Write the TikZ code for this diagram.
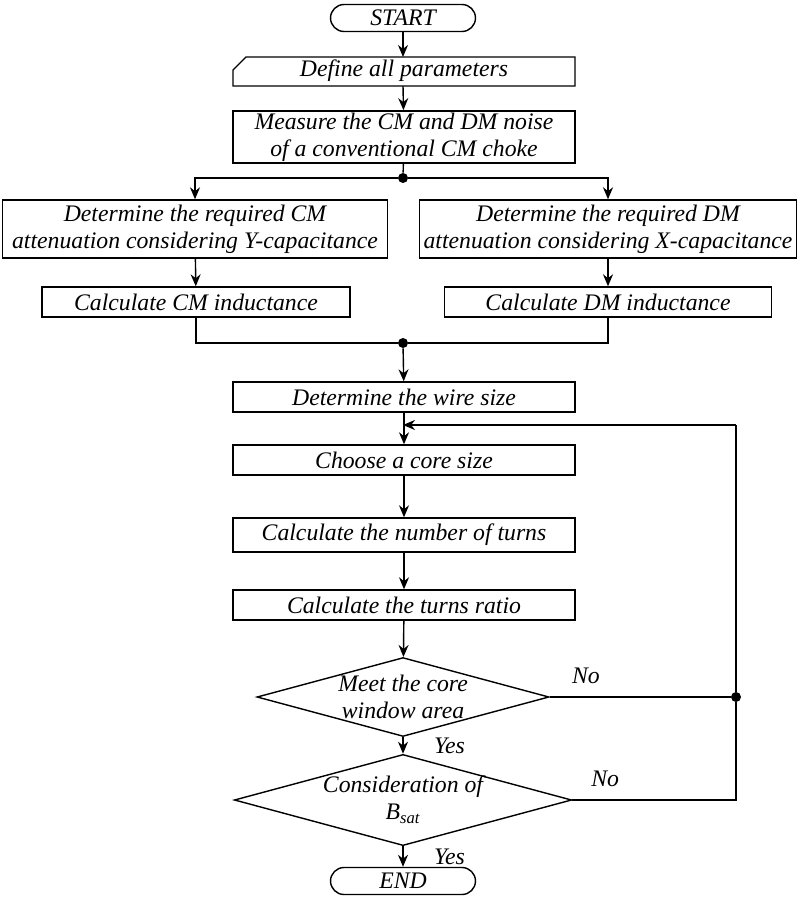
\documentclass[tikz,border=0pt]{standalone}
\usepackage{fontspec}
\setmainfont{Liberation Serif}
\usetikzlibrary{positioning,shapes.geometric,arrows.meta}
\tikzstyle{flowchart} = [x = .02cm, y = -.02cm, font=\fontsize{13.5}{15.5}\selectfont\itshape]
\tikzstyle{stepBox} = [draw, thick, minimum height = .6cm, align=center, inner sep=1pt]
\tikzstyle{wideBox} = [stepBox, minimum width = 6.84cm]
\tikzstyle{termBox} = [draw, thick, rounded corners = .27cm, minimum width = 2.9cm, minimum height = .54cm, inner sep=1pt]
\tikzstyle{decision} = [draw, thick, diamond, aspect = 3.7, minimum width = 5.8cm, minimum height = 1.56cm, inner sep=0pt, align=center]
\tikzstyle{flowLine} = [thick]
\tikzstyle{flowArrow} = [thick, -{Stealth[length=2.4mm, width=2mm]}]
\tikzstyle{junction} = [circle, fill, inner sep=0pt, minimum size=2mm]

\begin{document}
\begin{tikzpicture}[flowchart]
          \useasboundingbox (0,0) rectangle (800,898);
          \node [termBox] (start) at (403,18) {START};
          % manual input
          \draw [thick] (233,86) -- (233,70) -- (246,57) -- (575,57) -- (575,86) -- cycle;
          \node (params) at (404,71) {Define all parameters};
          \coordinate (paramsTop) at (403,57);
          \coordinate (paramsBottom) at (403,86);
          \node [wideBox, minimum height = .94cm] (measure) at (404,137) {Measure the CM and DM noise\\of a conventional CM choke};
          \node [junction] (split) at (403,178) {};
          \node [stepBox, minimum width = 7.7cm, minimum height = 1.16cm] (cmAtt) at (195,229) {Determine the required CM\\attenuation considering Y-capacitance};
          \node [stepBox, minimum width = 7.54cm, minimum height = 1.16cm] (dmAtt) at (608,229) {Determine the required DM\\attenuation considering X-capacitance};
          \node [stepBox, minimum width = 6.16cm] (cmInd) at (196,302) {Calculate CM inductance};
          \node [stepBox, minimum width = 6.54cm] (dmInd) at (608,302) {Calculate DM inductance};
          \node [junction] (merge) at (403,343) {};
          \node [wideBox] (wire) at (404,397) {Determine the wire size};
          \node [wideBox] (core) at (404,460) {Choose a core size};
          \node [wideBox, minimum height = .68cm] (turns) at (404,535) {Calculate the number of turns};
          \node [wideBox] (ratio) at (404,605) {Calculate the turns ratio};
          \node [decision] (window) at (403,697) {Meet the core\\window area};
          \node [decision] (bsat) at (403,800) {Consideration of\\B\textsubscript{sat}};
          \node [termBox] (finish) at (403,881) {END};
          \node [junction] (loop) at (736,697) {};
          \coordinate (loopTop) at (736,425);
          \coordinate (coreIn) at (403,425);
          \coordinate (loopCorner) at (736,800);

          \draw [flowArrow] (start) -- (paramsTop);
          \draw [flowArrow] (paramsBottom) -- (measure);
          \draw [flowLine] (measure) -- (split);
          \draw [flowArrow] (split) -| (cmAtt);
          \draw [flowArrow] (split) -| (dmAtt);
          \draw [flowArrow] (cmAtt) -- (cmInd);
          \draw [flowArrow] (dmAtt) -- (dmInd);
          \draw [flowLine] (cmInd) |- (merge);
          \draw [flowLine] (dmInd) |- (merge);
          \draw [flowArrow] (merge) -- (wire);
          \draw [flowArrow] (wire) -- (core);
          \draw [flowArrow] (core) -- (turns);
          \draw [flowArrow] (turns) -- (ratio);
          \draw [flowArrow] (ratio) -- (window);
          \draw [flowArrow] (window) -- node [right=14pt] {Yes} (bsat);
          \draw [flowArrow] (bsat) -- node [right=14pt] {Yes} (finish);
          \draw [flowLine] (window.east) -- node [above=4pt, pos=.2] {No} (loop);
          \draw [flowLine] (bsat.east) -- node [above=4pt, pos=.2] {No} (loopCorner) -- (loop) -- (loopTop);
          \draw [flowArrow] (loopTop) -- (coreIn);
\end{tikzpicture}
\end{document}
